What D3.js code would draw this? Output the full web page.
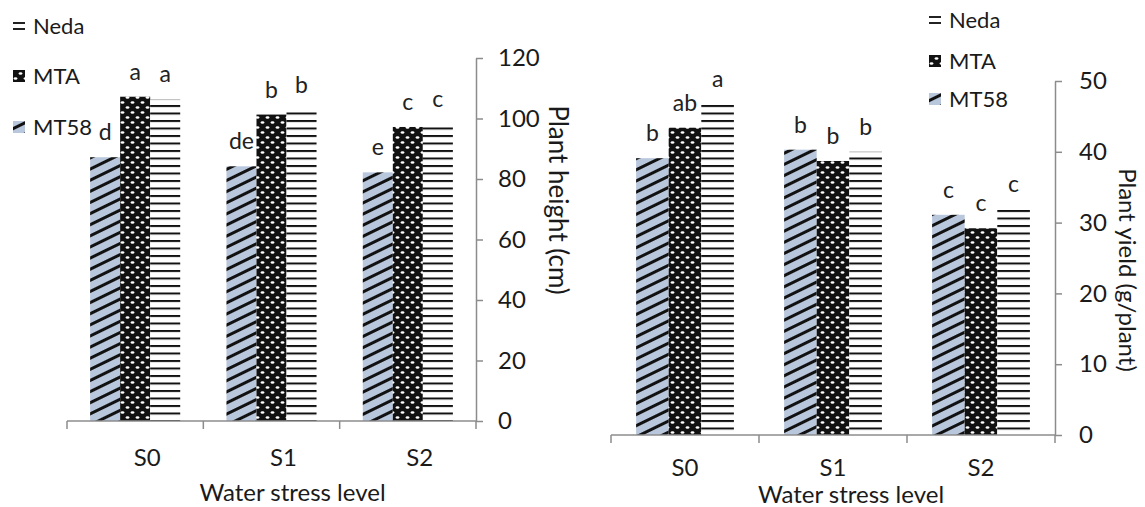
<!DOCTYPE html>
<html>
<head>
<meta charset="utf-8">
<script src="https://cdn.jsdelivr.net/npm/d3@7"></script>
<style>
  body { margin: 0; background: #fff; }
  svg { display: block; font-family: Lato, "Open Sans", sans-serif; }
</style>
</head>
<body>
<svg id="chart" width="1145" height="507"></svg>
<script>
var categories = ["S0", "S1", "S2"];
var series = ["MT58", "MTA", "Neda"];
var legendOrder = ["Neda", "MTA", "MT58"];

// plant height (cm)
var heightMT58 = [87.2, 84.2, 82.2];
var heightMTA = [107.2, 101.3, 97.2];
var heightNeda = [106.3, 102.8, 98.1];
var heightLettersMT58 = ["d", "de", "e"];
var heightLettersMTA = ["a", "b", "c"];
var heightLettersNeda = ["a", "b", "c"];
var heightTicks = [0, 20, 40, 60, 80, 100, 120];

// plant yield (g/plant)
var yieldMT58 = [39.1, 40.3, 31.1];
var yieldMTA = [43.4, 38.7, 29.2];
var yieldNeda = [46.8, 40.0, 31.9];
var yieldLettersMT58 = ["b", "b", "c"];
var yieldLettersMTA = ["ab", "b", "c"];
var yieldLettersNeda = ["a", "b", "c"];
var yieldTicks = [0, 10, 20, 30, 40, 50];

var svg = d3.select("#chart");
var defs = svg.append("defs");

// MT58: light blue with black rising stripes
var p1 = defs.append("pattern")
  .attr("id", "pat-MT58")
  .attr("patternUnits", "userSpaceOnUse")
  .attr("width", 10).attr("height", 10)
  .attr("patternTransform", "rotate(-26)");
p1.append("rect").attr("width", 10).attr("height", 10).attr("fill", "#b9c7dd");
p1.append("rect").attr("y", 0).attr("width", 10).attr("height", 3).attr("fill", "#111");

// MTA: black with white dots, rows offset
var p2 = defs.append("pattern")
  .attr("id", "pat-MTA")
  .attr("patternUnits", "userSpaceOnUse")
  .attr("width", 10).attr("height", 10);
p2.append("rect").attr("width", 10).attr("height", 10).attr("fill", "#111");
p2.append("ellipse").attr("cx", 2.5).attr("cy", 2.5).attr("rx", 1.9).attr("ry", 1.2).attr("fill", "#fff");
p2.append("ellipse").attr("cx", 7.5).attr("cy", 7.5).attr("rx", 1.9).attr("ry", 1.2).attr("fill", "#fff");

// Neda: horizontal lines
var p3 = defs.append("pattern")
  .attr("id", "pat-Neda")
  .attr("patternUnits", "userSpaceOnUse")
  .attr("width", 8).attr("height", 7.5);
p3.append("rect").attr("width", 8).attr("height", 7.5).attr("fill", "#fff");
p3.append("rect").attr("y", 0).attr("width", 8).attr("height", 2).attr("fill", "#111");

function drawPanel(cfg) {
  var x = d3.scaleBand().domain(categories).range(cfg.xRange).padding(0);
  var xs = d3.scaleBand().domain(series).range([0, x.bandwidth()]).paddingInner(0).paddingOuter(0.77);
  var y = d3.scaleLinear().domain(cfg.yDomain).range(cfg.yRange);

  var rows = [];
  categories.forEach(function (c, i) {
    series.forEach(function (s) {
      rows.push({ cat: c, s: s, v: cfg.values[s][i], lab: cfg.letters[s][i] });
    });
  });

  var g = svg.append("g");

  g.selectAll("rect.bar")
    .data(rows)
    .enter()
    .append("rect")
    .attr("class", "bar")
    .attr("x", function (d) { return x(d.cat) + xs(d.s); })
    .attr("y", function (d) { return y(d.v); })
    .attr("width", xs.bandwidth())
    .attr("height", function (d) { return y(0) - y(d.v); })
    .attr("fill", function (d) { return "url(#pat-" + d.s + ")"; });

  g.selectAll("text.lab")
    .data(rows)
    .enter()
    .append("text")
    .attr("class", "lab")
    .attr("x", function (d) { return x(d.cat) + xs(d.s) + xs.bandwidth() / 2; })
    .attr("y", function (d) { return y(d.v) - 17; })
    .attr("text-anchor", "middle")
    .attr("font-size", 23)
    .attr("fill", "#222")
    .text(function (d) { return d.lab; });

  // y axis on the right side
  var yAxis = g.append("g")
    .attr("transform", "translate(" + cfg.xRange[1] + ",0)")
    .call(d3.axisRight(y).tickValues(cfg.ticks).tickSize(7).tickPadding(cfg.tickPad).tickSizeOuter(0));
  yAxis.select(".domain").attr("stroke", "#8c8c8c").attr("stroke-width", 1.5);
  yAxis.selectAll(".tick line").attr("stroke", "#8c8c8c").attr("stroke-width", 1.5);
  yAxis.selectAll(".tick text").attr("font-size", 24).attr("fill", "#1a1a1a").attr("font-family", "Lato, sans-serif");

  // x axis line with ticks between categories
  var base = y(0);
  g.append("line")
    .attr("x1", cfg.xRange[0]).attr("x2", cfg.xRange[1])
    .attr("y1", base).attr("y2", base)
    .attr("stroke", "#8c8c8c").attr("stroke-width", 1.5);
  var edges = categories.map(function (c) { return x(c); }).concat([cfg.xRange[1]]);
  g.selectAll("line.xt")
    .data(edges)
    .enter()
    .append("line")
    .attr("class", "xt")
    .attr("x1", function (d) { return d; }).attr("x2", function (d) { return d; })
    .attr("y1", base).attr("y2", base + 8)
    .attr("stroke", "#8c8c8c").attr("stroke-width", 1.5);

  g.selectAll("text.cat")
    .data(categories)
    .enter()
    .append("text")
    .attr("class", "cat")
    .attr("x", function (d) { return x(d) + x.bandwidth() / 2 + cfg.catShift; })
    .attr("y", cfg.catY)
    .attr("text-anchor", "middle")
    .attr("font-size", 24)
    .attr("fill", "#1a1a1a")
    .text(function (d) { return d; });

  g.append("text")
    .attr("x", (cfg.xRange[0] + cfg.xRange[1]) / 2 + cfg.titleShift)
    .attr("y", cfg.xTitleY)
    .attr("text-anchor", "middle")
    .attr("font-size", 24)
    .attr("fill", "#1a1a1a")
    .text("Water stress level");

  g.append("text")
    .attr("transform", "translate(" + cfg.yTitleX + "," + cfg.yTitleY + ") rotate(90)")
    .attr("text-anchor", "middle")
    .attr("font-size", cfg.yTitleSize)
    .attr("fill", "#1a1a1a")
    .text(cfg.yTitle);

  // legend
  var lg = g.selectAll("g.leg")
    .data(legendOrder)
    .enter()
    .append("g")
    .attr("class", "leg")
    .attr("transform", function (d, i) { return "translate(" + cfg.legX + "," + cfg.legY[i] + ")"; });
  lg.each(function (d) {
    var el = d3.select(this);
    if (d == "Neda") {
      el.append("rect").attr("x", 0).attr("y", -4).attr("width", 12).attr("height", 2).attr("fill", "#222");
      el.append("rect").attr("x", 0).attr("y", 2).attr("width", 12).attr("height", 2).attr("fill", "#222");
    } else {
      el.append("rect").attr("x", 0).attr("y", -6).attr("width", 12).attr("height", 12)
        .attr("fill", "url(#pat-" + d + ")");
    }
  });
  lg.append("text")
    .attr("x", 20)
    .attr("y", 0)
    .attr("dy", "0.36em")
    .attr("font-size", 22)
    .attr("fill", "#1a1a1a")
    .text(function (d) { return d; });
}

drawPanel({
  xRange: [67, 476],
  yDomain: [0, 120],
  yRange: [421, 58],
  ticks: heightTicks,
  tickPad: 15,
  values: { MT58: heightMT58, MTA: heightMTA, Neda: heightNeda },
  letters: { MT58: heightLettersMT58, MTA: heightLettersMTA, Neda: heightLettersNeda },
  catY: 466,
  catShift: 12,
  xTitleY: 501,
  titleShift: 21,
  yTitle: "Plant height (cm)",
  yTitleSize: 26,
  yTitleX: 549,
  yTitleY: 200,
  legX: 13,
  legY: [26, 76, 127]
});

drawPanel({
  xRange: [611, 1055],
  yDomain: [0, 50],
  yRange: [435, 81],
  ticks: yieldTicks,
  tickPad: 17,
  values: { MT58: yieldMT58, MTA: yieldMTA, Neda: yieldNeda },
  letters: { MT58: yieldLettersMT58, MTA: yieldLettersMTA, Neda: yieldLettersNeda },
  catY: 476,
  catShift: 0,
  xTitleY: 503,
  titleShift: 18,
  yTitle: "Plant yield (g/plant)",
  yTitleSize: 24,
  yTitleX: 1119,
  yTitleY: 270,
  legX: 929,
  legY: [20, 61, 99]
});
</script>
</body>
</html>
